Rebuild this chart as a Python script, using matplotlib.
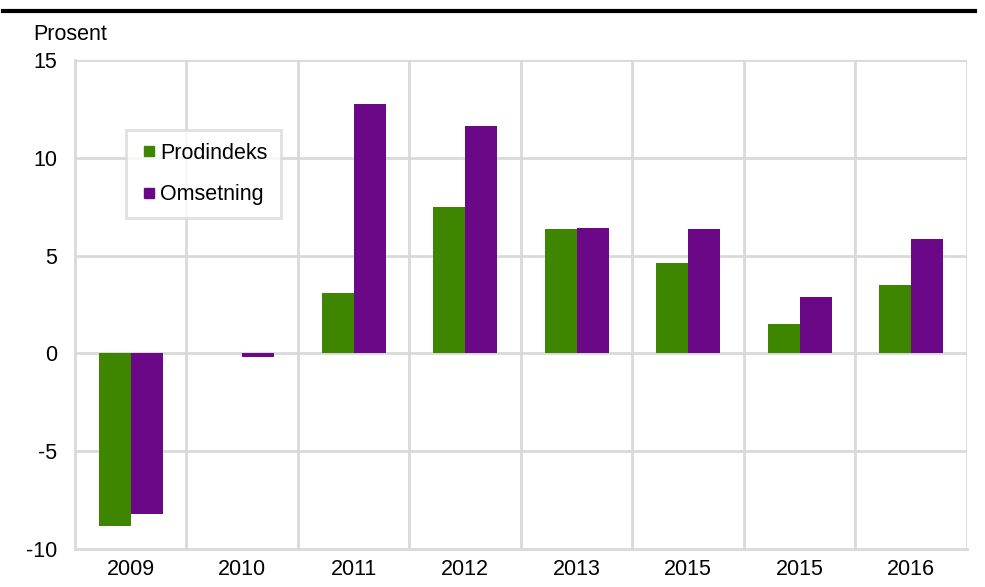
import numpy as np
import matplotlib.pyplot as plt
from matplotlib.lines import Line2D

plt.rcParams['font.family'] = ['Liberation Sans', 'DejaVu Sans']

years = ['2009', '2010', '2011', '2012', '2013', '2015', '2015', '2016']
prodindeks = [-8.8, 0.0, 3.07, 7.46, 6.34, 4.6, 1.48, 3.48]
omsetning = [-8.2, -0.2, 12.73, 11.6, 6.39, 6.34, 2.86, 5.83]
yticks = [-10, -5, 0, 5, 10, 15]

green = '#3f8600'
purple = '#6a0888'
grid_col = '#d9d9d9'
fs = 15.5

fig = plt.figure(figsize=(9.85, 5.87), dpi=100)
ax = fig.add_axes([0.0761, 0.0647, 0.9056, 0.8331])

x = np.arange(len(years))
w = 0.287
ax.bar(x - w / 2, prodindeks, w, color=green, zorder=3)
ax.bar(x + w / 2, omsetning, w, color=purple, zorder=3)

ax.set_xlim(-0.5, len(years) - 0.5)
ax.set_ylim(-10, 15)
ax.set_yticks(yticks)
ax.set_yticklabels([str(v) for v in yticks])
ax.set_xticks(x)
ax.set_xticklabels(years)
ax.tick_params(axis='both', length=0, labelsize=fs)
ax.tick_params(axis='y', pad=13)
ax.tick_params(axis='x', pad=7)

# gridlines: horizontal at ticks, vertical between categories
for yv in yticks[1:]:
    ax.axhline(yv, color=grid_col, lw=2, zorder=1)
for xv in np.arange(0.5, len(years), 1):
    ax.axvline(xv, color=grid_col, lw=2, zorder=1)

for side in ['top', 'right']:
    ax.spines[side].set_visible(False)
for side in ['left', 'bottom']:
    ax.spines[side].set_color(grid_col)
    ax.spines[side].set_linewidth(2)

handles = [Line2D([], [], ls='none', marker='s', markersize=7.5, color=green),
           Line2D([], [], ls='none', marker='s', markersize=7.5, color=purple)]
leg = ax.legend(handles, ['Prodindeks', 'Omsetning'],
                loc='upper left', bbox_to_anchor=(0.057, 0.857),
                fontsize=fs, frameon=True, fancybox=False,
                handlelength=1.0, handletextpad=0.0,
                labelspacing=0.95, borderpad=0.6, borderaxespad=0)
leg.get_frame().set_edgecolor(grid_col)
leg.get_frame().set_linewidth(2)

fig.text(33 / 985, 1 - 34 / 587, 'Prosent', fontsize=fs, va='center', ha='left')
fig.add_artist(Line2D([3 / 985, 975 / 985], [1 - 11 / 587, 1 - 11 / 587],
                      color='black', lw=3))

fig.savefig('out.png', dpi=100)
